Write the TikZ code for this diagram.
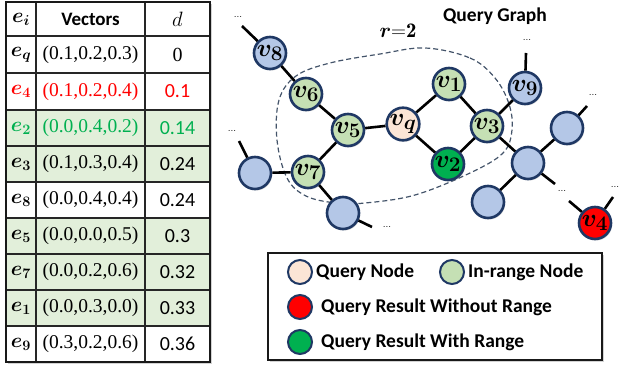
\documentclass[tikz,border=0pt]{standalone}
\usepackage{amsmath}
\usepackage{fontspec}
\newfontfamily\carl{Carlito}
\newfontfamily\vser{Liberation Serif}
\usetikzlibrary{shadows}

\definecolor{navy}{HTML}{1F3864}
\definecolor{nblue}{HTML}{B4C7E7}
\definecolor{ngreen}{HTML}{C5E0B4}
\definecolor{npeach}{HTML}{FBE5D6}
\definecolor{ndark}{HTML}{00B050}
\definecolor{nred}{HTML}{FF0000}
\definecolor{rowgreen}{HTML}{E2EFDA}
\definecolor{txtgreen}{HTML}{00B050}
\definecolor{dashcol}{HTML}{44546A}

\tikzset{
  gnode/.style={circle, draw=navy, line width=2.6pt, minimum size=32pt, inner sep=0pt,
    font=\fontsize{24.88}{25}\selectfont,
    drop shadow={opacity=.3, shadow xshift=1.2pt, shadow yshift=-1.5pt}},
  bluen/.style={gnode, fill=nblue},
  greenn/.style={gnode, fill=ngreen},
  peachn/.style={gnode, fill=npeach},
  darkn/.style={gnode, fill=ndark},
  redn/.style={gnode, fill=nred},
  edge/.style={line width=2.6pt, black},
  dots/.style={inner sep=0pt, font=\fontsize{10}{10}\selectfont},
  legc/.style={circle, draw=navy, line width=2pt, minimum size=24pt, inner sep=0pt},
  legt/.style={anchor=west, inner sep=0pt, font=\carl\bfseries\fontsize{19.5}{20}\selectfont},
  ecell/.style={inner sep=0pt, font=\fontsize{20.74}{21}\selectfont},
  vcell/.style={inner sep=0pt, font=\vser\fontsize{19.5}{20}\selectfont},
  dcell/.style={inner sep=0pt, font=\carl\fontsize{20}{20}\selectfont},
  grid/.style={line width=1.3pt, black!85},
}

\begin{document}
\begin{tikzpicture}[x=1pt,y=-1pt]
\useasboundingbox (0,0) rectangle (621,369);

% ---------- table ----------
\path[fill=white, drop shadow={opacity=.35, shadow xshift=2pt, shadow yshift=-2pt}]
  (6,2) rectangle (210,362);
\fill[rowgreen] (6,110) rectangle (210,182);
\fill[rowgreen] (6,218) rectangle (210,326);
\foreach \y in {36,73,110,146,182,218,254,290,326}
  \draw[grid] (6,\y) -- (210,\y);
\draw[grid] (36,2) -- (36,362);
\draw[grid] (145,2) -- (145,362);
\draw[line width=2pt, black!90] (6,2) rectangle (210,362);

\node[ecell] (hE) at (21,19) {$\boldsymbol{e_i}$};
\node[inner sep=0pt, font=\carl\bfseries\fontsize{19}{19}\selectfont] (hV) at (90.5,19) {Vectors};
\node[ecell] (hD) at (177.5,19) {$d$};

\foreach \n/\yc/\col/\lab/\vec/\dd/\dfont in {
   q/54.5/black/q/{(0.1,0.2,0.3)}/0/\vser,
   4/91.5/nred/4/{(0.1,0.2,0.4)}/0.1/\carl,
   2/128/txtgreen/2/{(0.0,0.4,0.2)}/0.14/\carl,
   3/164/black/3/{(0.1,0.3,0.4)}/0.24/\carl,
   8/200/black/8/{(0.0,0.4,0.4)}/0.24/\carl,
   5/236/black/5/{(0.0,0.0,0.5)}/0.3/\carl,
   7/272/black/7/{(0.0,0.2,0.6)}/0.32/\carl,
   1/308/black/1/{(0.0,0.3,0.0)}/0.33/\carl,
   9/344/black/9/{(0.3,0.2,0.6)}/0.36/\carl}{
  \node[ecell, text=\col] (e\n) at (21,\yc) {$\boldsymbol{e_{\lab}}$};
  \node[vcell, text=\col] (vec\n) at (90.5,\yc) {\vec};
  \node[dcell, text=\col] (d\n) at (177.5,\yc) {\dfont\dd};
}

% ---------- query graph ----------
\node[inner sep=0pt, font=\carl\bfseries\fontsize{19.5}{20}\selectfont] (title) at (495,16) {Query Graph};
\node[inner sep=0pt, font=\fontsize{20.74}{21}\selectfont] (radius) at (398,31) {$\boldsymbol{r}{\mathbf{=}}\mathbf{2}$};

% range boundary
\draw[dashcol, line width=1.2pt, dash pattern=on 5pt off 3pt]
  plot[smooth cycle, tension=0.6] coordinates {
    (425,48) (470,58) (495,78) (509,104) (512,130) (503,153) (470,173)
    (415,195) (365,203) (336,203) (306,196) (287,178) (277,140) (279,100)
    (296,76) (330,63) (380,54)};

\node[bluen]  (v8) at (270,53) {$\boldsymbol{v_8}$};
\node[greenn] (v6) at (306,94) {$\boldsymbol{v_6}$};
\node[greenn] (v5) at (348,130) {$\boldsymbol{v_5}$};
\node[peachn] (vq) at (403,124) {$\boldsymbol{v_q}$};
\node[greenn] (v1) at (449,84) {$\boldsymbol{v_1}$};
\node[greenn] (v3) at (487,126) {$\boldsymbol{v_3}$};
\node[darkn]  (v2) at (448,164) {$\boldsymbol{v_2}$};
\node[greenn] (v7) at (308,172) {$\boldsymbol{v_7}$};
\node[bluen]  (nl) at (255,173) {};
\node[bluen]  (nb) at (343,213) {};
\node[bluen]  (v9) at (525,88) {$\boldsymbol{v_9}$};
\node[bluen]  (nc) at (528,163) {};
\node[bluen]  (nur) at (567,128) {};
\node[bluen]  (nll) at (488,202) {};
\node[redn]   (v4) at (595,223) {$\boldsymbol{v_4}$};

% loose edge ends
\coordinate (t8) at (242,26);
\coordinate (tl) at (239,141);
\coordinate (t9) at (526,53);
\coordinate (tur) at (587,106);
\coordinate (tc) at (555,184);
\coordinate (tb) at (372,227);
\coordinate (t4a) at (569,201);
\coordinate (t4b) at (613,197);

\node[dots] (o8) at (238,17) {...};
\node[dots] (ol) at (232,131) {...};
\node[dots] (o9) at (527,40) {...};
\node[dots] (our) at (593,95) {...};
\node[dots] (oc) at (562,191) {...};
\node[dots] (ob) at (387,227) {...};
\node[dots] (o4) at (615,187) {...};

\begin{scope}[edge]
  \draw (v8) -- (v6);
  \draw (v6) -- (v5);
  \draw (v5) -- (vq);
  \draw (v5) -- (v7);
  \draw (v7) -- (nl);
  \draw (v7) -- (nb);
  \draw (vq) -- (v1);
  \draw (vq) -- (v2);
  \draw (v1) -- (v3);
  \draw (v2) -- (v3);
  \draw (v3) -- (v9);
  \draw (v3) -- (nc);
  \draw (nc) -- (nur);
  \draw (nc) -- (nll);
  \draw (v8) -- (t8);
  \draw (nl) -- (tl);
  \draw (v9) -- (t9);
  \draw (nur) -- (tur);
  \draw (nc) -- (tc);
  \draw (nb) -- (tb);
  \draw (v4) -- (t4a);
  \draw (v4) -- (t4b);
\end{scope}

% ---------- legend ----------
\path[fill=white, draw=black!90, line width=1.5pt,
  drop shadow={opacity=.35, shadow xshift=2pt, shadow yshift=-2pt}]
  (268,253) rectangle (602,360);
\node[legc, fill=npeach] (lq) at (300,272) {};
\node[legt] (lqt) at (316,272) {Query Node};
\node[legc, fill=ngreen] (lg) at (452,272) {};
\node[legt] (lgt) at (468,272) {In-range Node};
\node[legc, fill=nred] (lr) at (300,307) {};
\node[legt] (lrt) at (321,307) {Query Result Without Range};
\node[legc, fill=ndark] (ld) at (300,342) {};
\node[legt] (ldt) at (321,342) {Query Result With Range};
\end{tikzpicture}
\end{document}
